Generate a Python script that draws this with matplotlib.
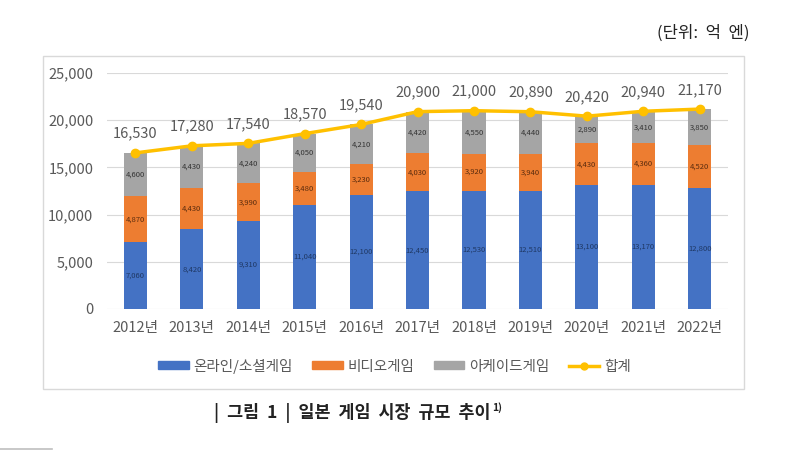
import numpy as np
import matplotlib.pyplot as plt
from matplotlib.patches import Rectangle
from matplotlib.lines import Line2D

plt.rcParams['font.family'] = ['Noto Sans CJK KR', 'DejaVu Sans']

years = ['2012년', '2013년', '2014년', '2015년', '2016년', '2017년',
         '2018년', '2019년', '2020년', '2021년', '2022년']
online = [7060, 8420, 9310, 11040, 12100, 12450, 12530, 12510, 13100, 13170, 12800]
video = [4870, 4430, 3990, 3480, 3230, 4030, 3920, 3940, 4430, 4360, 4520]
arcade = [4600, 4430, 4240, 4050, 4210, 4420, 4550, 4440, 2890, 3410, 3850]
total = [16530, 17280, 17540, 18570, 19540, 20900, 21000, 20890, 20420, 20940, 21170]

series_names = ['온라인/소셜게임', '비디오게임', '아케이드게임', '합계']
c_blue, c_orange, c_gray, c_yellow = '#4472C4', '#ED7D31', '#A5A5A5', '#FFC000'

fig = plt.figure(figsize=(8, 4.53), dpi=100)
ax = fig.add_axes([0.134, 0.318, 0.776, 0.521])

x = np.arange(len(years))
w = 0.41
online_a = np.array(online)
video_a = np.array(video)
arcade_a = np.array(arcade)

ax.bar(x, online_a, w, color=c_blue, zorder=2)
ax.bar(x, video_a, w, bottom=online_a, color=c_orange, zorder=2)
ax.bar(x, arcade_a, w, bottom=online_a + video_a, color=c_gray, zorder=2)
ax.plot(x, total, color=c_yellow, lw=2.5, marker='o', ms=6, zorder=3)

# small value labels inside the segments
for i in range(len(x)):
    ax.text(x[i], online_a[i] / 2, f'{online[i]:,}', ha='center', va='center',
            fontsize=5.5, color='#1F3864', zorder=4)
    ax.text(x[i], online_a[i] + video_a[i] / 2, f'{video[i]:,}', ha='center',
            va='center', fontsize=5.5, color='#5B2C0E', zorder=4)
    ax.text(x[i], online_a[i] + video_a[i] + arcade_a[i] / 2, f'{arcade[i]:,}',
            ha='center', va='center', fontsize=5.5, color='#333333', zorder=4)
    ax.text(x[i], total[i] + 1300, f'{total[i]:,}', ha='center', va='bottom',
            fontsize=10.5, color='#595959', zorder=4)

ax.set_xlim(-0.5, len(x) - 0.5)
ax.set_ylim(0, 25000)
ax.set_yticks(range(0, 25001, 5000))
ax.set_yticklabels([f'{v:,}' for v in range(0, 25001, 5000)])
ax.set_xticks(x)
ax.set_xticklabels(years)
ax.tick_params(axis='both', length=0, labelsize=10.5, colors='#595959')
ax.tick_params(axis='y', pad=10)
ax.tick_params(axis='x', pad=9)
ax.grid(axis='y', color='#D9D9D9', lw=0.8, zorder=0)
for s in ax.spines.values():
    s.set_visible(False)

handles = [Rectangle((0, 0), 1, 1, color=c_blue),
           Rectangle((0, 0), 1, 1, color=c_orange),
           Rectangle((0, 0), 1, 1, color=c_gray),
           Line2D([], [], color=c_yellow, lw=2.5, marker='o', ms=5)]
fig.legend(handles, series_names, loc='center', bbox_to_anchor=(0.493, 1 - 366 / 453),
           ncol=4, frameon=False, fontsize=10.5, handlelength=2.1, handleheight=0.5,
           handletextpad=0.3, columnspacing=1.35, labelcolor='#595959')

# chart frame
fig.patches.append(Rectangle((43 / 800, 1 - 389 / 453), 701 / 800, 333 / 453,
                             transform=fig.transFigure, fill=False,
                             edgecolor='#D9D9D9', lw=1))
fig.add_artist(Line2D([0, 52 / 800], [1 - 449 / 453] * 2, transform=fig.transFigure,
                      color='#BFBFBF', lw=1.2))

fig.text(703 / 800, 1 - 33 / 453, '(단위:  억  엔)', ha='center', va='center',
         fontsize=12, color='#222222')
cap = fig.text(352 / 800, 1 - 413 / 453, '|  그림  1  |  일본  게임  시장  규모  추이',
               ha='center', va='center', fontsize=12.5, color='#222222',
               fontweight='bold')
fig.canvas.draw()
bb = cap.get_window_extent().transformed(fig.transFigure.inverted())
fig.text(bb.x1 + 0.002, 1 - 408 / 453, '1)', ha='left', va='center',
         fontsize=7.5, color='#222222', fontweight='bold')

fig.savefig('out.png', dpi=100)
